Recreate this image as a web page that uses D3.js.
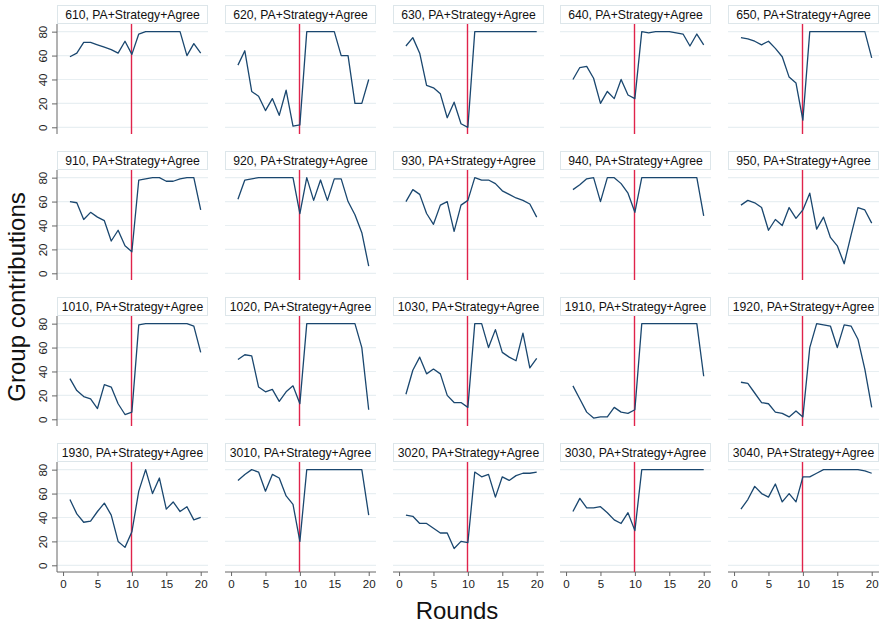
<!DOCTYPE html>
<html>
<head>
<meta charset="utf-8">
<script src="https://cdn.jsdelivr.net/npm/d3@7"></script>
<style>
  html, body { margin: 0; padding: 0; background: #ffffff; }
  svg { display: block; font-family: "Liberation Sans", Arial, sans-serif; }
</style>
</head>
<body>
<svg id="chart" width="882" height="627"></svg>
<script>
// ---------- data ----------
const groups = ["610","620","630","640","650",
                "910","920","930","940","950",
                "1010","1020","1030","1910","1920",
                "1930","3010","3020","3030","3040"];
const treatmentLabel = "PA+Strategy+Agree";
const rounds = [1,2,3,4,5,6,7,8,9,10,11,12,13,14,15,16,17,18,19,20];
const xTicks = [0,5,10,15,20];
const yTicks = [0,20,40,60,80];
const switchRound = 10;

const g610  = [59,62,71,71,69,67,65,62,72,61,78,80,80,80,80,80,80,60,70,62];
const g620  = [52,64,30,26,14,24,10,31,1,2,80,80,80,80,80,60,60,20,20,40];
const g630  = [68,75,62,35,33,28,8,21,3,0,80,80,80,80,80,80,80,80,80,80];
const g640  = [40,50,51,41,20,30,24,40,27,24,80,79,80,80,80,79,78,68,78,69];
const g650  = [75,74,72,69,72,66,59,42,37,6,80,80,80,80,80,80,80,80,80,58];
const g910  = [60,59,45,51,47,44,27,36,23,18,78,79,80,80,77,77,79,80,80,53];
const g920  = [62,78,79,80,80,80,80,80,80,50,80,61,78,61,79,79,60,49,34,6];
const g930  = [60,70,66,50,41,57,60,35,57,61,80,78,78,75,69,66,63,61,58,47];
const g940  = [70,74,79,80,60,80,80,75,67,51,80,80,80,80,80,80,80,80,80,48];
const g950  = [57,61,59,55,36,45,40,55,46,53,67,37,47,30,23,8,32,55,53,42];
const g1010 = [34,24,19,17,9,29,27,13,4,6,79,80,80,80,80,80,80,80,78,56];
const g1020 = [50,54,53,27,23,25,15,23,28,13,80,80,80,80,80,80,80,80,60,8];
const g1030 = [21,41,52,38,42,38,20,14,14,10,80,80,60,75,56,52,49,72,43,51];
const g1910 = [28,17,6,1,2,2,10,6,5,8,80,80,80,80,80,80,80,80,80,36];
const g1920 = [31,30,22,14,13,6,5,2,7,2,60,80,79,78,60,79,78,67,42,10];
const g1930 = [55,43,36,37,45,52,42,20,15,28,62,80,60,73,47,53,45,49,38,40];
const g3010 = [71,76,80,78,62,76,73,58,51,20,80,80,80,80,80,80,80,80,80,42];
const g3020 = [42,41,35,35,31,27,27,14,20,19,78,74,76,57,74,71,75,77,77,78];
const g3030 = [45,56,48,48,49,44,38,35,44,29,80,80,80,80,80,80,80,80,80,80];
const g3040 = [47,55,66,60,57,68,53,60,53,74,74,77,80,80,80,80,80,80,79,77];

const seriesList = [g610,g620,g630,g640,g650,g910,g920,g930,g940,g950,
                    g1010,g1020,g1030,g1910,g1920,g1930,g3010,g3020,g3030,g3040];

// ---------- layout ----------
const nCols = 5, nRows = 4;
const colStep = 167.7, rowStep = 146.1;
const left0 = 57.3, top0 = 5;
const stripH = 19, plotW = 151, plotH = 110;

const svg = d3.select("#chart");

const x = d3.scaleLinear().domain([-0.88, 21.06]).range([0, plotW]);
const y = d3.scaleLinear().domain([-5.6, 86.4]).range([plotH, 0]);

const lineGen = d3.line()
  .x((d, i) => x(rounds[i]))
  .y(d => y(d));

groups.forEach((g, k) => {
  const col = k % nCols, row = Math.floor(k / nCols);
  const gx = Math.round(left0 + col * colStep);
  const gy = Math.round(top0 + row * rowStep);

  const panel = svg.append("g").attr("transform", `translate(${gx},${gy})`);

  // strip title
  panel.append("rect")
    .attr("x", 0.5).attr("y", 0.5)
    .attr("width", plotW - 1).attr("height", stripH - 1)
    .attr("fill", "#ffffff").attr("stroke", "#dde6ea").attr("stroke-width", 1);
  panel.append("text")
    .attr("x", plotW / 2).attr("y", stripH / 2)
    .attr("dy", "0.36em")
    .attr("text-anchor", "middle")
    .attr("font-size", "12.2px")
    .attr("fill", "#111")
    .text(`${g}, ${treatmentLabel}`);

  const plot = panel.append("g").attr("transform", `translate(0,${stripH})`);

  // gridlines
  plot.selectAll("line.grid").data(yTicks).enter().append("line")
    .attr("class", "grid")
    .attr("x1", 0).attr("x2", plotW)
    .attr("y1", d => y(d)).attr("y2", d => y(d))
    .attr("stroke", "#e8eff2").attr("stroke-width", 1.2);

  // y axis on first column
  if (col === 0) {
    const ya = plot.append("g")
      .call(d3.axisLeft(y).tickValues(yTicks).tickSize(5).tickSizeOuter(0).tickPadding(4));
    ya.select(".domain").attr("stroke", "#666").attr("d", `M0,0V${plotH}`);
    ya.selectAll(".tick line").attr("stroke", "#666");
    ya.selectAll(".tick text")
      .attr("font-size", "11.5px")
      .attr("font-family", "Liberation Sans, Arial, sans-serif")
      .attr("fill", "#222")
      .attr("text-anchor", "middle")
      .attr("transform", "rotate(-90)")
      .attr("x", 0)
      .attr("y", -10)
      .attr("dy", "0em");
  }

  // x axis on last row
  if (row === nRows - 1) {
    const xa = plot.append("g")
      .attr("transform", `translate(0,${plotH})`)
      .call(d3.axisBottom(x).tickValues(xTicks).tickSize(4).tickSizeOuter(0).tickPadding(4));
    xa.select(".domain").attr("stroke", "#666").attr("d", `M0,0H${plotW}`);
    xa.selectAll(".tick line").attr("stroke", "#666");
    xa.selectAll(".tick text")
      .attr("font-size", "11.5px")
      .attr("font-family", "Liberation Sans, Arial, sans-serif")
      .attr("fill", "#222");
  }

  // treatment switch line
  const xr = Math.floor(x(switchRound)) + 0.5;
  plot.append("line")
    .attr("x1", xr).attr("x2", xr)
    .attr("y1", 0).attr("y2", plotH)
    .attr("stroke", "#e0234b").attr("stroke-width", 1.4);

  // data line
  plot.append("path")
    .datum(seriesList[k])
    .attr("d", lineGen)
    .attr("fill", "none")
    .attr("stroke", "#1a476f")
    .attr("stroke-width", 1.3)
    .attr("stroke-linejoin", "round");
});

// axis titles
svg.append("text")
  .attr("x", 457).attr("y", 619)
  .attr("text-anchor", "middle")
  .attr("font-size", "24px")
  .attr("fill", "#111")
  .text("Rounds");

svg.append("text")
  .attr("transform", "translate(25,297) rotate(-90)")
  .attr("text-anchor", "middle")
  .attr("font-size", "24px")
  .attr("fill", "#111")
  .text("Group contributions");
</script>
</body>
</html>
